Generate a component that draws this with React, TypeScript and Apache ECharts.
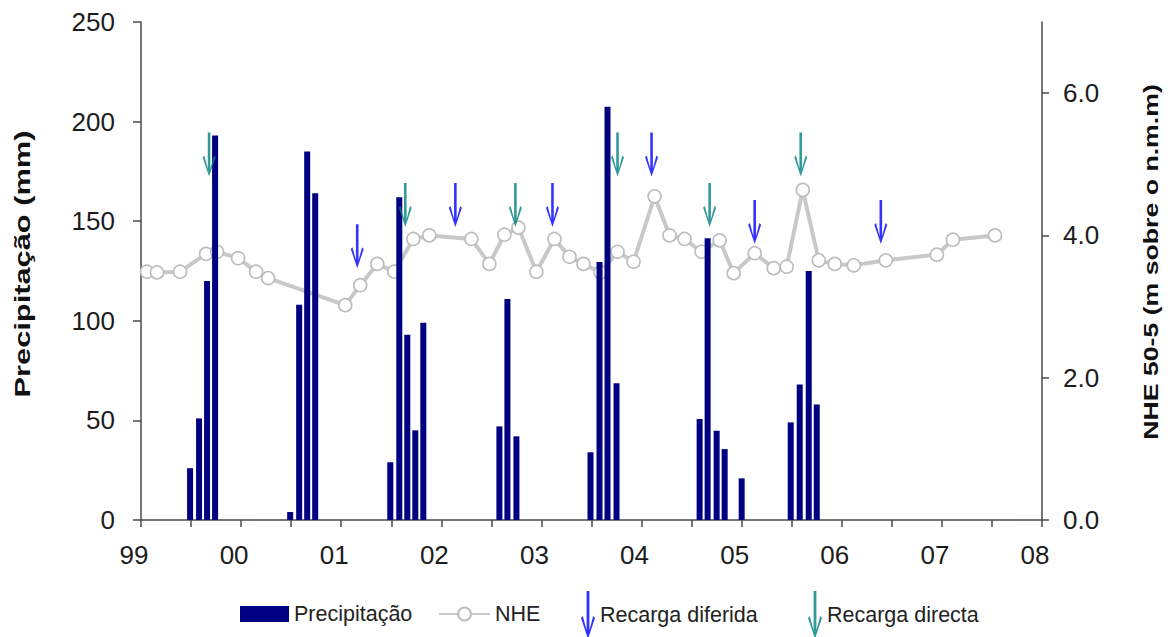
import React, { useEffect, useRef } from "react";
import * as echarts from "echarts";

// ---- data ----
const yearTickLabels = ["99", "00", "01", "02", "03", "04", "05", "06", "07", "08"];

const precipYears = [
  1999.49, 1999.58, 1999.66, 1999.74,
  2000.49, 2000.58, 2000.66, 2000.74,
  2001.49, 2001.58, 2001.66, 2001.74, 2001.82,
  2002.58, 2002.66, 2002.75,
  2003.49, 2003.58, 2003.66, 2003.75,
  2004.58, 2004.66, 2004.75, 2004.83, 2005.0,
  2005.49, 2005.58, 2005.67, 2005.75,
];
const precipMm = [
  26, 51, 120, 193,
  4, 108, 185, 164,
  29, 162, 93, 45, 99,
  47, 111, 42,
  34, 129.5, 207.5, 68.6,
  50.7, 141.4, 44.8, 35.6, 20.9,
  49, 68, 125, 58,
];

const nheYears = [
  1999.06, 1999.16, 1999.39, 1999.65, 1999.76, 1999.97, 2000.15, 2000.27,
  2001.04, 2001.19, 2001.36, 2001.53, 2001.72, 2001.88,
  2002.3, 2002.48, 2002.63, 2002.77, 2002.95,
  2003.13, 2003.28, 2003.42, 2003.59, 2003.76, 2003.92,
  2004.13, 2004.28, 2004.43, 2004.6, 2004.78, 2004.92,
  2005.13, 2005.32, 2005.45, 2005.61, 2005.77, 2005.93,
  2006.12, 2006.44, 2006.95, 2007.11, 2007.53,
];
const nheLevels = [
  3.49, 3.48, 3.49, 3.74, 3.77, 3.68, 3.49, 3.4,
  3.02, 3.3, 3.6, 3.49, 3.95, 4.0,
  3.95, 3.6, 4.01, 4.11, 3.49,
  3.95, 3.7, 3.6, 3.48, 3.77, 3.63,
  4.55, 4.0, 3.95, 3.77, 3.93, 3.47,
  3.75, 3.54, 3.56, 4.64, 3.65, 3.6,
  3.58, 3.65, 3.73, 3.94, 4.0,
];

const diferidaYears = [2001.16, 2002.14, 2003.11, 2004.1, 2005.13, 2006.39];
const diferidaLevels = [3.54, 4.12, 4.12, 4.83, 3.88, 3.88];

const directaYears = [1999.68, 2001.64, 2002.74, 2003.76, 2004.68, 2005.59];
const directaLevels = [4.83, 4.12, 4.12, 4.83, 4.12, 4.83];

// ---- styles ----
const FONT = '"Liberation Sans", Arial, Helvetica, sans-serif';
const ARROW =
  "path://M5.2,0 L7.8,0 L7.8,36 L11.3,23 L13,24.8 L6.5,44 L0,24.8 L1.7,23 L5.2,36 Z";
const AXIS_COLOR = "#4a4a4a";
const LABEL_COLOR = "#1c1c1c";

const zip = (xs: number[], ys: number[]) => xs.map((x, i) => [x, ys[i]]);

export default function App() {
  const ref = useRef<HTMLDivElement>(null);

  useEffect(() => {
    if (!ref.current) return;
    const chart = echarts.init(ref.current, undefined, { renderer: "svg" });

    const legendText = { fontSize: 21.5, fontFamily: FONT, color: "#222" };

    chart.setOption({
      animation: false,
      backgroundColor: "#ffffff",
      grid: { left: 141, right: 128, top: 22, bottom: 117, containLabel: false },
      xAxis: {
        type: "value",
        min: 1999,
        max: 2008,
        interval: 0.5,
        splitLine: { show: false },
        axisLine: { show: true, onZero: false, lineStyle: { color: AXIS_COLOR, width: 1.5 } },
        axisTick: { show: true, length: 7, lineStyle: { color: AXIS_COLOR, width: 1.5 } },
        axisLabel: {
          margin: 22,
          fontSize: 26,
          fontFamily: FONT,
          color: LABEL_COLOR,
          padding: [0, 14, 0, 0],
          showMinLabel: true,
          showMaxLabel: true,
          formatter: (v: number) =>
            Math.abs(v - Math.round(v)) < 1e-6 ? yearTickLabels[Math.round(v) - 1999] : "",
        },
      },
      yAxis: [
        {
          type: "value",
          min: 0,
          max: 250,
          interval: 50,
          position: "left",
          splitLine: { show: false },
          axisLine: { show: true, lineStyle: { color: AXIS_COLOR, width: 1.5 } },
          axisTick: { show: true, length: 8, lineStyle: { color: AXIS_COLOR, width: 1.5 } },
          axisLabel: { margin: 26, fontSize: 26, fontFamily: FONT, color: LABEL_COLOR },
        },
        {
          type: "value",
          min: 0,
          max: 7,
          interval: 2,
          position: "right",
          splitLine: { show: false },
          axisLine: { show: true, lineStyle: { color: AXIS_COLOR, width: 1.5 } },
          axisTick: { show: true, length: 7, lineStyle: { color: AXIS_COLOR, width: 1.5 } },
          axisLabel: {
            margin: 21,
            fontSize: 26,
            fontFamily: FONT,
            color: LABEL_COLOR,
            showMaxLabel: false,
            formatter: (v: number) => v.toFixed(1),
          },
        },
      ],
      legend: [
        {
          left: 240,
          top: 603,
          padding: 0,
          itemWidth: 49,
          itemHeight: 16,
          textStyle: legendText,
          data: [{ name: "Precipitação", icon: "rect" }],
        },
        {
          left: 438,
          top: 603,
          padding: 0,
          itemWidth: 51,
          itemHeight: 16,
          textStyle: legendText,
          data: ["NHE"],
        },
        {
          left: 581,
          top: 591,
          padding: 0,
          itemWidth: 14,
          itemHeight: 48,
          symbolKeepAspect: false,
          textStyle: legendText,
          data: [{ name: "Recarga diferida", icon: ARROW }],
        },
        {
          left: 808,
          top: 591,
          padding: 0,
          itemWidth: 14,
          itemHeight: 48,
          symbolKeepAspect: false,
          textStyle: legendText,
          data: [{ name: "Recarga directa", icon: ARROW }],
        },
      ],
      graphic: [
        {
          type: "text",
          x: 23,
          y: 264,
          rotation: Math.PI / 2,
          scaleX: 1.4,
          style: {
            text: "Precipitação (mm)",
            fontSize: 22,
            fontWeight: "bold",
            fontFamily: FONT,
            fill: "#111",
            align: "center",
            verticalAlign: "middle",
            textAlign: "center",
            textVerticalAlign: "middle",
          },
        },
        {
          type: "text",
          x: 1151,
          y: 262,
          rotation: Math.PI / 2,
          scaleX: 1.27,
          style: {
            text: "NHE 50-5 (m sobre o n.m.m)",
            fontSize: 21,
            fontWeight: "bold",
            fontFamily: FONT,
            fill: "#111",
            align: "center",
            verticalAlign: "middle",
            textAlign: "center",
            textVerticalAlign: "middle",
          },
        },
      ],
      series: [
        {
          name: "NHE",
          type: "line",
          yAxisIndex: 1,
          z: 1,
          data: zip(nheYears, nheLevels),
          symbol: "circle",
          symbolSize: 13,
          showAllSymbol: true,
          lineStyle: { color: "#c8c8c8", width: 4 },
          itemStyle: { color: "#ffffff", borderColor: "#bdbdbd", borderWidth: 1.6 },
        },
        {
          name: "Precipitação",
          type: "bar",
          yAxisIndex: 0,
          z: 2,
          barWidth: 6,
          data: zip(precipYears, precipMm),
          itemStyle: { color: "#000080" },
        },
        {
          name: "Recarga diferida",
          type: "scatter",
          yAxisIndex: 1,
          z: 3,
          symbol: ARROW,
          symbolSize: [13, 44],
          symbolOffset: [0, -22],
          data: zip(diferidaYears, diferidaLevels),
          itemStyle: { color: "#0000ff" },
        },
        {
          name: "Recarga directa",
          type: "scatter",
          yAxisIndex: 1,
          z: 3,
          symbol: ARROW,
          symbolSize: [13, 44],
          symbolOffset: [0, -22],
          data: zip(directaYears, directaLevels),
          itemStyle: { color: "#008080" },
        },
      ],
    });

    return () => chart.dispose();
  }, []);

  return (
    <div
      ref={ref}
      style={{ position: "fixed", left: 0, top: 0, width: 1170, height: 637, background: "#fff" }}
    />
  );
}
